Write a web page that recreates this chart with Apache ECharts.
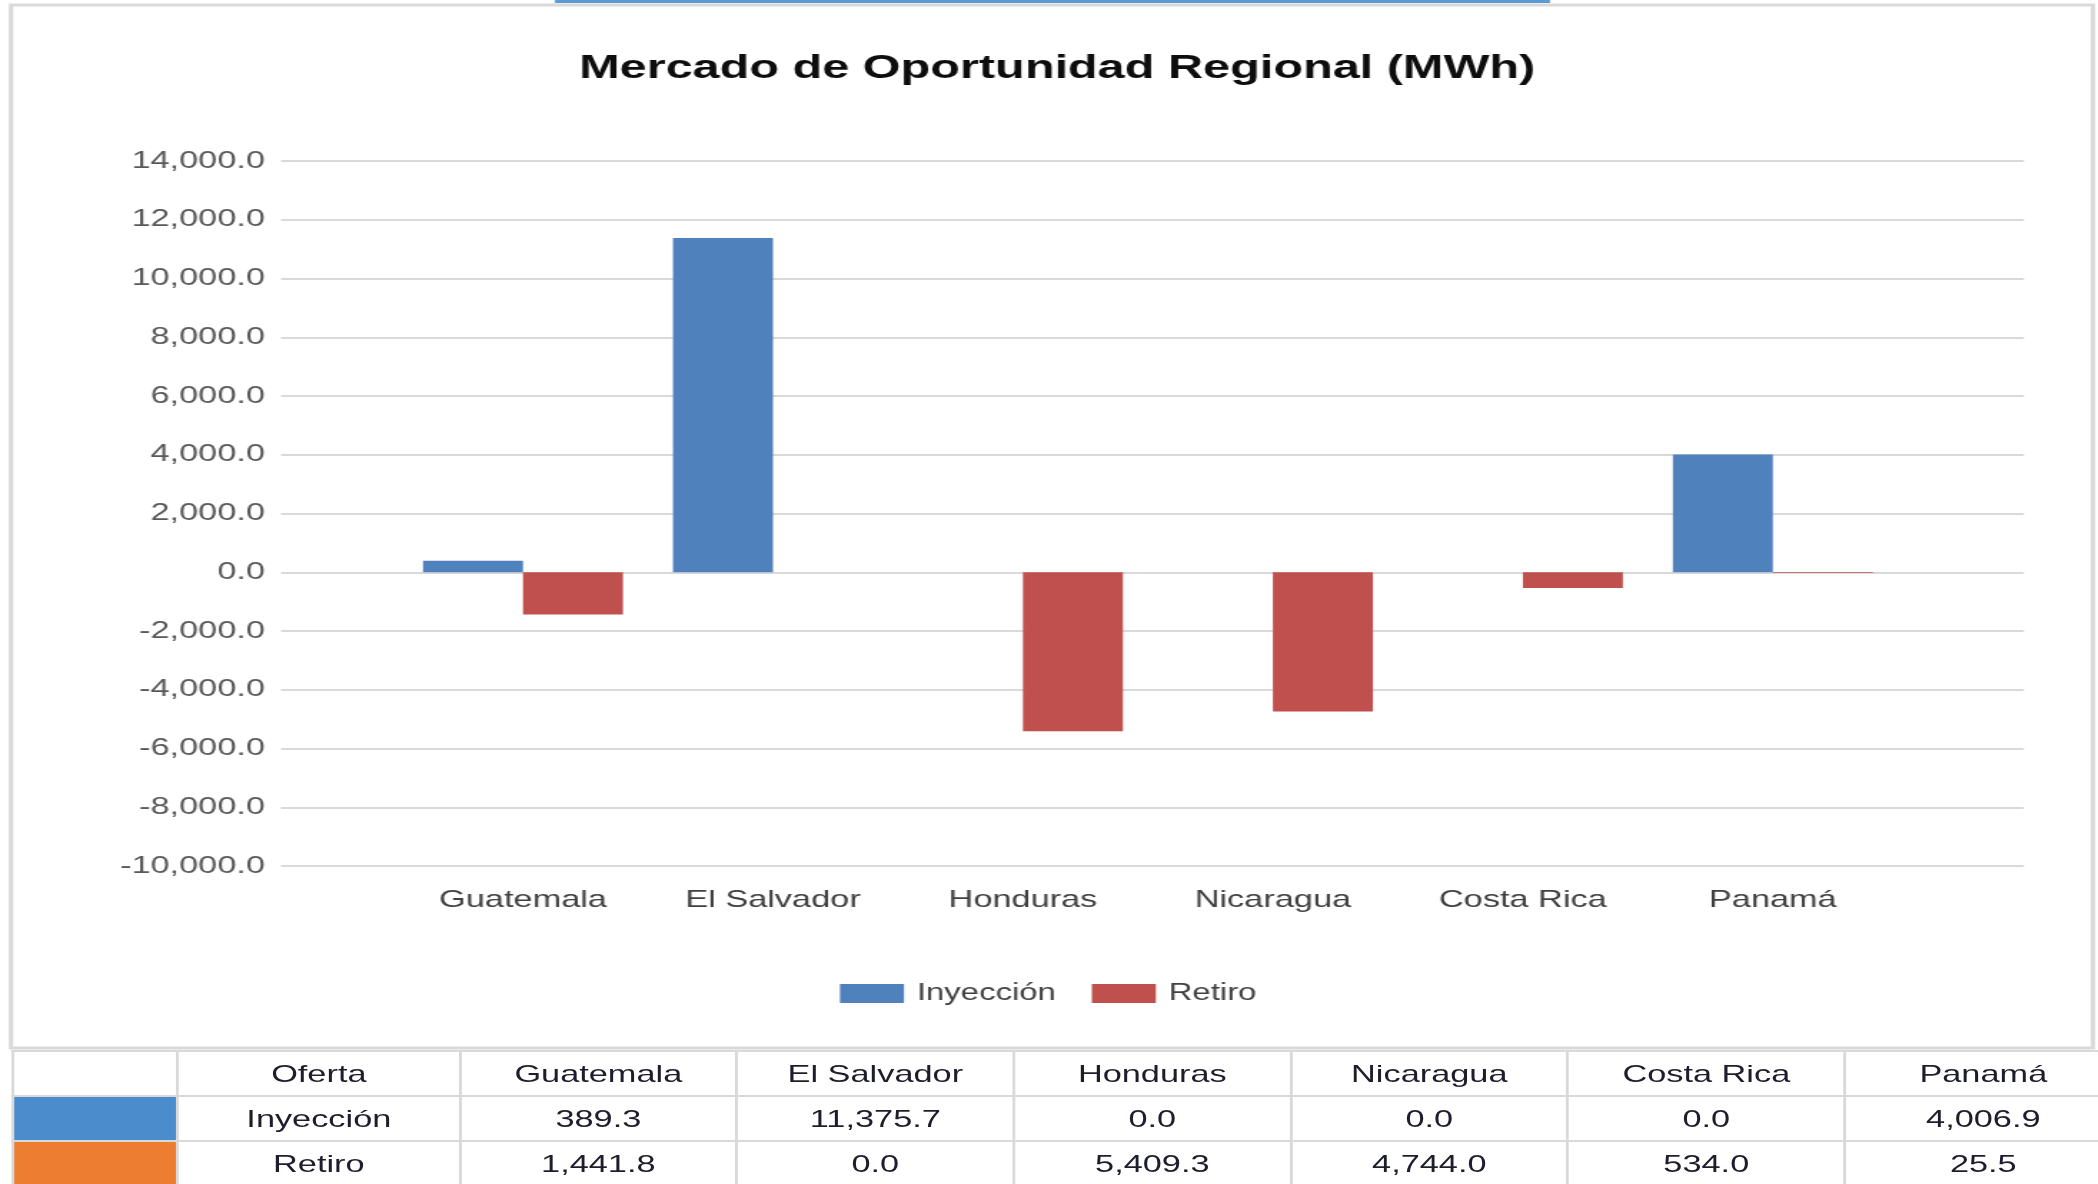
<!DOCTYPE html>
<html>
<head>
<meta charset="utf-8">
<script src="https://cdn.jsdelivr.net/npm/echarts@6/dist/echarts.min.js"></script>
<style>
  html, body { margin: 0; padding: 0; background: #fff; overflow: hidden; }
  /* the original picture is stretched sideways, so the whole page is too */
  #page { position: absolute; left: 0; top: 0; width: 1467px; height: 1184px; transform: scaleX(1.43); transform-origin: 0 0; }
  #main { position: absolute; left: 0; top: 0; width: 1467px; height: 1184px; }
  #tabla { position: absolute; top: 1050px; left: 8px; border-collapse: collapse; font-family: "Liberation Sans", Arial, sans-serif; font-size: 24px; color: #1d1d2b; table-layout: fixed; }
  #tabla td { border: 2px solid #d9d9d9; height: 43px; padding: 0; text-align: center; vertical-align: middle; white-space: nowrap; }
</style>
</head>
<body>
<div id="page">
  <div id="main"></div>
  <table id="tabla"></table>
</div>
<script>
var S = 1.43;
function px(v) { return v / S; }

// datos
var categories = ['Guatemala', 'El Salvador', 'Honduras', 'Nicaragua', 'Costa Rica', 'Panamá'];
var seriesNames = ['Inyección', 'Retiro'];
var inyeccion = [389.3, 11375.7, 0.0, 0.0, 0.0, 4006.9];
var retiro = [1441.8, 0.0, 5409.3, 4744.0, 534.0, 25.5];
var yMin = -10000;
var yMax = 14000;
var yStep = 2000;

var fmt = function (v) {
  return v.toLocaleString('en-US', { minimumFractionDigits: 1, maximumFractionDigits: 1 });
};
var font = '"Liberation Sans", Arial, sans-serif';

var option = {
  backgroundColor: '#fff',
  animation: false,
  title: {
    text: 'Mercado de Oportunidad Regional (MWh)',
    left: px(1050),
    textAlign: 'center',
    top: 47,
    textStyle: { fontFamily: font, fontSize: 34, fontWeight: 'bold', color: '#0d0d0d' }
  },
  legend: {
    data: seriesNames,
    icon: 'rect',
    padding: 0,
    left: px(840),
    top: 982,
    itemWidth: px(64),
    itemHeight: 19,
    itemGap: px(36),
    textStyle: { fontFamily: font, fontSize: 23, color: '#404040', padding: [0, 0, 0, 4] }
  },
  color: ['#4f81bd', '#c0504d'],
  grid: [
    // rejilla ancha solo para las lineas y etiquetas del eje Y
    { left: px(281), right: px(74), top: 161, bottom: 318, containLabel: false },
    // rejilla de las barras
    { left: px(398), right: px(200), top: 161, bottom: 318, containLabel: false }
  ],
  xAxis: [
    { type: 'category', gridIndex: 0, data: categories, show: false },
    {
      type: 'category', gridIndex: 1, data: categories,
      axisLine: { show: false },
      axisTick: { show: false },
      axisLabel: { margin: 22, fontFamily: font, fontSize: 24, color: '#404040' }
    }
  ],
  yAxis: [
    {
      type: 'value', gridIndex: 0, min: yMin, max: yMax, interval: yStep,
      axisLine: { show: false },
      axisTick: { show: false },
      axisLabel: { margin: px(16), fontFamily: font, fontSize: 24, color: '#595959', formatter: fmt },
      splitLine: { lineStyle: { color: '#d9d9d9', width: 2 } }
    },
    { type: 'value', gridIndex: 1, min: yMin, max: yMax, interval: yStep, show: false, splitLine: { show: false } }
  ],
  series: [
    {
      name: seriesNames[0], type: 'bar', xAxisIndex: 1, yAxisIndex: 1,
      barGap: '0%', barCategoryGap: '20%',
      data: inyeccion
    },
    {
      name: seriesNames[1], type: 'bar', xAxisIndex: 1, yAxisIndex: 1,
      barGap: '0%', barCategoryGap: '20%',
      data: retiro.map(function (v) { return -v; })
    }
  ],
  graphic: [
    // marco del grafico
    { type: 'rect', shape: { x: px(11), y: 5, width: px(2082), height: 1043 }, style: { fill: 'none', stroke: '#d9d9d9', lineWidth: 3 }, silent: true },
    // franja azul recortada arriba
    { type: 'rect', shape: { x: px(555), y: 0, width: px(995), height: 3 }, style: { fill: '#5b9bd5' }, silent: true }
  ]
};

var chart = echarts.init(document.getElementById('main'));
chart.setOption(option);

// tabla de datos bajo el grafico
var widths = [165, 282, 277, 277, 277, 277, 277, 277];
var swatches = ['#fff', '#4a8ccc', '#ed7d31'];
var rows = [
  ['Oferta'].concat(categories),
  [seriesNames[0]].concat(inyeccion.map(fmt)),
  [seriesNames[1]].concat(retiro.map(fmt))
];
var total = widths.reduce(function (a, b) { return a + b; }, 0);
var tabla = document.getElementById('tabla');
tabla.style.width = px(total) + 'px';
var html = '<colgroup>' + widths.map(function (w) { return '<col style="width:' + px(w) + 'px">'; }).join('') + '</colgroup>';
rows.forEach(function (r, i) {
  html += '<tr><td style="background:' + swatches[i] + '"></td>';
  r.forEach(function (c) { html += '<td>' + c + '</td>'; });
  html += '</tr>';
});
tabla.innerHTML = html;
</script>
</body>
</html>
